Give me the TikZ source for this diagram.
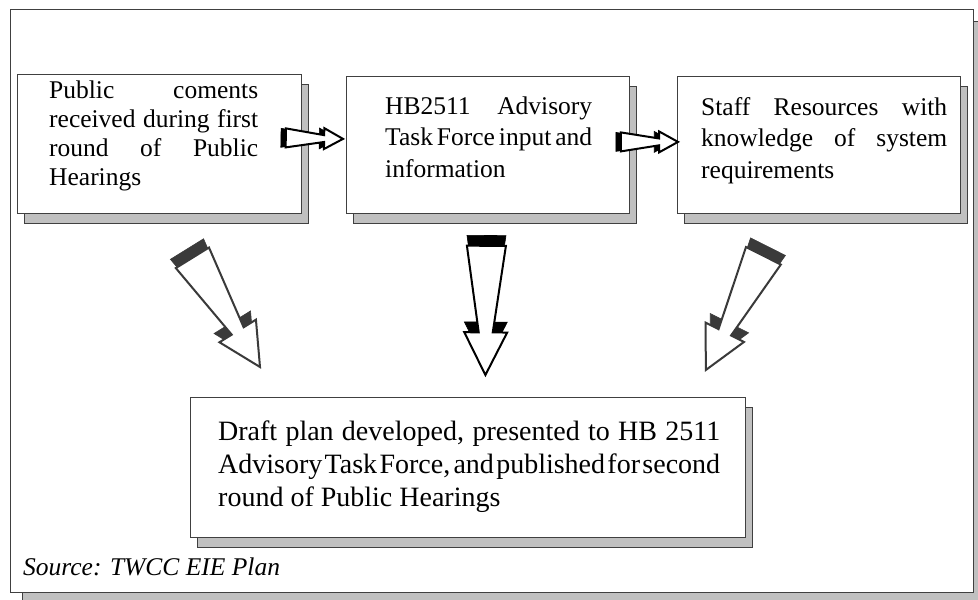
\documentclass[tikz,border=0pt]{standalone}
\usepackage{fontspec}
\setmainfont{Liberation Serif}
\usetikzlibrary{calc, positioning, shadows}

\definecolor{framegray}{HTML}{404040}
\definecolor{shadowgray}{HTML}{C0C0C0}
\definecolor{arrowgray}{HTML}{3A3A3A}

\newcommand{\cardfont}[2]{\fontsize{#1}{#2}\selectfont\spaceskip=.25em plus 1em minus .2em\relax\tolerance=10000\hyphenpenalty=10000\relax}

\tikzset{blockface/.style={fill=white, line width=2pt, line join=miter}}

% hollow 3d arrow: [colour]{tail}{tip}{half width}{depth}
\newcommand{\blockarrow}[5][black]{%
  \pgfmathsetmacro\bashaft{0.36*#4}%
  \pgfmathsetmacro\bahead{1.1*#4}%
  \pgfmathsetmacro\baback{0.67-#5}%
  \pgfmathsetmacro\batail{-#5}%
  \pgfmathsetmacro\batip{1-#5}%
  \filldraw[#1, line width=0.6pt]
    ($(#2)!\batail!(#3)!#4pt!90:(#3)$) -- ($(#2)!\baback!(#3)!\bashaft pt!90:(#3)$)
    -- ($(#2)!\baback!(#3)!\bahead pt!90:(#3)$) -- ($(#2)!\batip!(#3)$)
    -- ($(#2)!\baback!(#3)!\bahead pt!270:(#3)$) -- ($(#2)!\baback!(#3)!\bashaft pt!270:(#3)$)
    -- ($(#2)!\batail!(#3)!#4pt!270:(#3)$) -- cycle;
  \filldraw[blockface, draw=#1]
    ($(#2)!0!(#3)!#4pt!90:(#3)$) -- ($(#2)!0.67!(#3)!\bashaft pt!90:(#3)$)
    -- ($(#2)!0.67!(#3)!\bahead pt!90:(#3)$) -- (#3)
    -- ($(#2)!0.67!(#3)!\bahead pt!270:(#3)$) -- ($(#2)!0.67!(#3)!\bashaft pt!270:(#3)$)
    -- ($(#2)!0!(#3)!#4pt!270:(#3)$) -- cycle;
}

\begin{document}
\begin{tikzpicture}[x=1pt, y=-1pt,
  frame/.style={draw=framegray, line width=0.8pt, fill=white, inner sep=0pt, anchor=north west,
    drop shadow={shadow xshift=12pt, shadow yshift=-12pt, opacity=1, fill=shadowgray, draw=framegray}},
  card/.style={draw=framegray, line width=0.8pt, fill=white, inner sep=0pt, anchor=north west,
    drop shadow={shadow xshift=7pt, shadow yshift=-10pt, opacity=1, fill=shadowgray, draw=framegray}},
  cardtext/.style={inner sep=0pt, anchor=base west, align=justify}]
\useasboundingbox (0,0) rectangle (978,600);

\node[frame, minimum width=963pt, minimum height=583pt] (frame) at (10,9) {};

% boxes
\node[card, minimum width=284pt, minimum height=139pt] (pub) at (17,74) {};
\node[card, minimum width=283pt, minimum height=137pt] (hb) at (346,76) {};
\node[card, minimum width=283pt, minimum height=137pt] (staff) at (677,76) {};
\node[card, minimum width=555pt, minimum height=140pt] (draft) at (190,397) {};

% arrow ends
\coordinate (pubarr) at ($(pub.east)+(-16,-6)$);
\coordinate (hbin) at ($(hb.west)+(-3,-6)$);
\coordinate (hbarr) at ($(hb.east)+(-9,-3)$);
\coordinate (staffin) at ($(staff.west)+(1,-3)$);
\coordinate (pubdown) at ($(pub.south)+(33,44)$);
\coordinate (hbdown) at ($(hb.south)+(-1.5,32)$);
\coordinate (staffdown) at ($(staff.south)+(-55.5,42)$);
\coordinate (draftl) at ($(draft.north west)+(70,-30)$);
\coordinate (draftm) at ($(draft.north)+(17.5,-22)$);
\coordinate (draftr) at ($(draft.north east)+(-40,-27)$);

\blockarrow{pubarr}{hbin}{9.5}{0.085}
\blockarrow{hbarr}{staffin}{9.5}{0.085}
\blockarrow[arrowgray]{pubdown}{draftl}{19.5}{0.08}
\blockarrow{hbdown}{draftm}{19.5}{0.08}
\blockarrow[arrowgray]{staffdown}{draftr}{19.5}{0.08}

% texts
\node[cardtext, text width=209pt, font=\cardfont{25.5}{29}] (pubtxt) at ($(pub.north west)+(32,24)$)
  {Public coments\linebreak received during first\linebreak round of Public\linebreak Hearings};
\node[cardtext, text width=207pt, font=\cardfont{25.5}{31.5}] (hbtxt) at ($(hb.north west)+(39,38)$)
  {HB2511 Advisory\linebreak Task Force input and\linebreak information};
\node[cardtext, text width=246pt, font=\cardfont{25.5}{31.5}] (stafftxt) at ($(staff.north west)+(24,39)$)
  {Staff Resources with\linebreak knowledge of system\linebreak requirements};
\node[cardtext, text width=502pt, font=\cardfont{28}{33}] (drafttxt) at ($(draft.north west)+(28,43)$)
  {Draft plan developed, presented to HB 2511\linebreak Advisory Task Force, and published for second\linebreak round of Public Hearings};
\node[inner sep=0pt, anchor=base west, font=\fontsize{25.5}{29}\selectfont\itshape] (source)
  at ($(frame.south west)+(13,-17)$) {Source: TWCC EIE Plan};
\end{tikzpicture}
\end{document}
